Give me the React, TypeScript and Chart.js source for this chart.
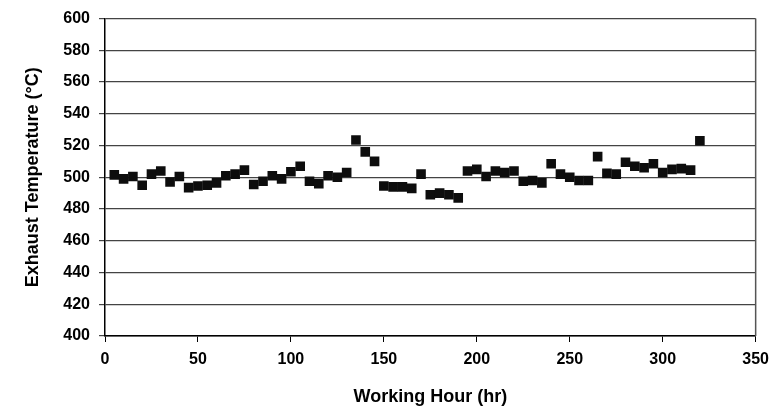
import React, { useEffect, useRef } from "react";
import { Chart, registerables } from "chart.js";

Chart.register(...registerables);

const workingHours = [
  5, 10, 15, 20, 25, 30, 35, 40, 45, 50, 55, 60, 65, 70, 75, 80, 85, 90, 95, 100,
  105, 110, 115, 120, 125, 130, 135, 140, 145, 150, 155, 160, 165, 170, 175, 180,
  185, 190, 195, 200, 205, 210, 215, 220, 225, 230, 235, 240, 245, 250, 255, 260,
  265, 270, 275, 280, 285, 290, 295, 300, 305, 310, 315, 320,
];

const exhaustTemps = [
  501.5, 499, 500.5, 495, 502, 504, 497, 500.5, 493.5, 494.5, 495, 496.5, 501, 502,
  504.5, 495.5, 497.5, 501, 499, 503.5, 507, 497.5, 496, 501, 500, 503, 523.5, 516,
  510, 494.5, 494, 494, 493, 502, 489, 490, 489, 487, 504, 505, 500.5, 504, 503, 504,
  497.5, 498, 496.5, 508.5, 502, 500, 498, 498, 513, 502.5, 502, 509.5, 507, 506,
  508.5, 503, 505, 505.5, 504.5, 523,
];

const xTitle = "Working Hour (hr)";
const yTitle = "Exhaust Temperature (°C)";

const FONT = "'Liberation Sans', Arial, sans-serif";

const rightBorder = {
  id: "rightBorder",
  afterDraw(chart: any) {
    const { ctx, chartArea } = chart;
    ctx.save();
    ctx.strokeStyle = "#555";
    ctx.lineWidth = 1.5;
    ctx.beginPath();
    ctx.moveTo(chartArea.right, chartArea.top);
    ctx.lineTo(chartArea.right, chartArea.bottom);
    ctx.stroke();
    ctx.restore();
  },
};

export default function App() {
  const ref = useRef<HTMLCanvasElement | null>(null);

  useEffect(() => {
    if (!ref.current) return;
    const data = workingHours.map((h, i) => ({ x: h, y: exhaustTemps[i] }));
    const chart = new Chart(ref.current, {
      type: "scatter",
      data: {
        datasets: [
          {
            data,
            pointStyle: "rect",
            pointRadius: 6.8,
            backgroundColor: "#0d0d0d",
            borderColor: "#0d0d0d",
            borderWidth: 0,
          },
        ],
      },
      options: {
        animation: false,
        responsive: false,
        layout: { padding: { left: 0, top: 17, right: 20, bottom: 0 } },
        plugins: { legend: { display: false }, tooltip: { enabled: false } },
        scales: {
          x: {
            type: "linear",
            min: 0,
            max: 350,
            ticks: {
              stepSize: 50,
              color: "#000",
              padding: 8,
              maxRotation: 0,
              font: { family: FONT, size: 16, weight: "bold" },
            },
            grid: {
              display: true,
              drawOnChartArea: false,
              drawTicks: true,
              tickLength: 6,
              color: "#000",
            },
            border: { display: true, color: "#000", width: 1.5 },
            title: {
              display: true,
              text: xTitle,
              color: "#000",
              font: { family: FONT, size: 18, weight: "bold" },
              padding: { top: 0, bottom: 1 },
            },
            afterFit(scale: any) {
              scale.height = 73;
            },
          },
          y: {
            min: 400,
            max: 600,
            ticks: {
              stepSize: 20,
              color: "#000",
              padding: 9,
              font: { family: FONT, size: 16, weight: "bold" },
            },
            grid: {
              color: "#444",
              lineWidth: 1.2,
              tickLength: 6,
            },
            border: { display: true, color: "#000", width: 1.5 },
            title: {
              display: true,
              text: yTitle,
              color: "#000",
              font: { family: FONT, size: 18, weight: "bold" },
              padding: { top: 22, bottom: 0 },
            },
            afterFit(scale: any) {
              scale.width = 105;
            },
          },
        },
      },
      plugins: [rightBorder],
    });
    return () => chart.destroy();
  }, []);

  return (
    <div style={{ position: "absolute", left: 0, top: 0, width: 777, height: 409, background: "#fff" }}>
      <canvas ref={ref} width={777} height={409} style={{ display: "block" }} />
    </div>
  );
}
